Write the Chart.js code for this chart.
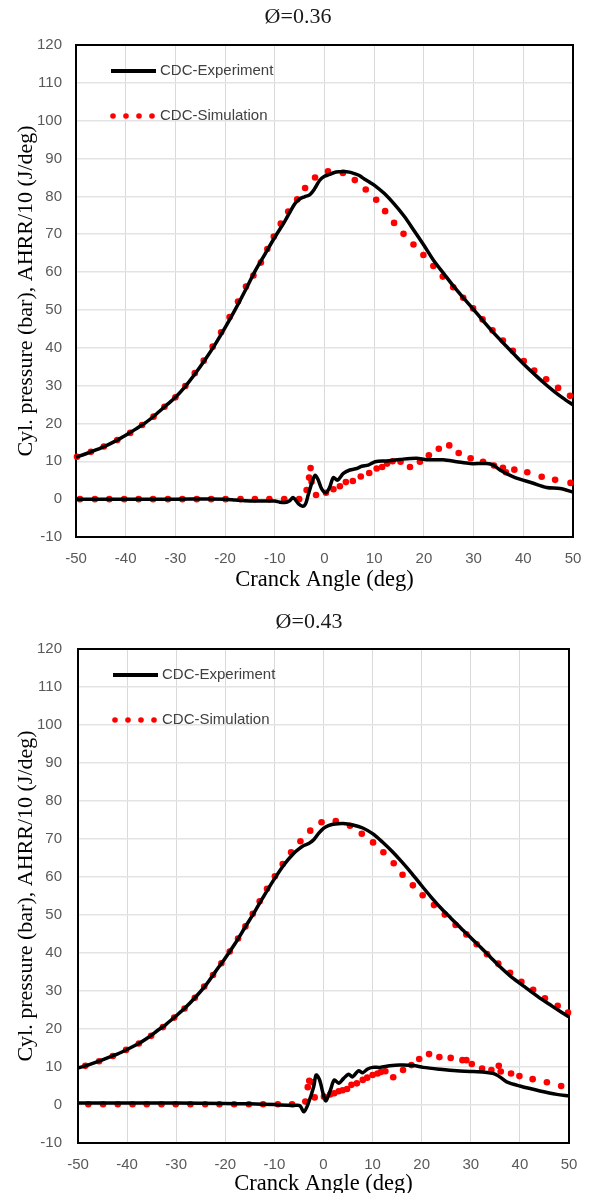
<!DOCTYPE html>
<html>
<head>
<meta charset="utf-8">
<script src="https://cdn.jsdelivr.net/npm/chart.js@4.4.1/dist/chart.umd.min.js"></script>
<style>
  body { margin: 0; background: #fff; }
  canvas { display: block; }
</style>
</head>
<body>
<canvas id="chart36" width="589" height="598"></canvas>
<canvas id="chart43" width="589" height="600"></canvas>
<script>
// ---- axis ticks ----
const xTicks = { min: -50, max: 50, step: 10 };
const yTicks = { min: -10, max: 120, step: 10 };

// ---- Ø=0.36 ----
const exp36PressAngle = [-50,-48,-46,-44,-42,-40,-38,-36,-34,-32,-30,-28,-26,-24,-22,-20,-18,-16,-14,-12,-10,-8,-6,-5,-4,-3,-2,-1,0,1,2,3,4,5,6,7,8,9,10,12,14,16,18,20,22,24,26,28,30,32,34,36,38,40,42,44,46,48,50];
const exp36Press = [11.1,12.0,13.0,14.1,15.4,16.9,18.5,20.2,22.3,24.6,26.9,29.8,33.2,36.9,40.9,45.3,50.0,55.0,60.2,64.7,69.2,73.4,78.0,79.3,79.9,80.4,82.0,84.2,85.3,85.8,86.3,86.5,86.6,86.4,86.0,85.5,84.6,83.8,83.0,80.8,78.0,74.8,71.0,67.1,63.0,59.6,56.2,53.1,50.1,47.0,44.0,41.2,38.5,35.8,33.3,30.9,28.7,26.7,24.9];

const exp36HeatAngle = [-50,-40,-30,-20,-18,-16,-14,-12,-10,-9,-8,-7,-6.3,-5.2,-4.4,-3.8,-3.3,-2.5,-1.9,-1.3,-0.6,0.3,1.0,1.8,2.6,3.8,5.1,6.5,7.5,8.8,10.2,12.5,15.2,18.5,20.6,23.9,26.6,29.3,32.6,34.0,35.3,38.0,42.0,44.7,47.4,50];
const exp36Heat = [0,0,0,0,-0.2,-0.4,-0.5,-0.5,-0.5,-0.8,-0.9,-0.4,0.4,-1.3,-1.9,-1.2,1.0,4.5,6.3,5.2,2.8,1.7,3.0,5.7,5.0,6.8,7.7,8.1,8.7,9.0,9.9,10.1,10.5,10.8,10.4,10.4,9.9,9.4,9.4,9.0,7.7,5.9,4.2,3.1,2.8,1.9];

const sim36PressAngle = [-49.8,-47.0,-44.4,-41.7,-39.1,-36.7,-34.4,-32.2,-30.0,-28.0,-26.1,-24.3,-22.5,-20.8,-19.1,-17.4,-15.8,-14.3,-12.8,-11.5,-10.2,-8.8,-7.3,-5.5,-3.9,-1.9,0.7,3.7,6.1,8.3,10.4,12.2,14.0,15.9,17.9,19.9,21.9,23.8,25.9,27.9,29.9,31.8,33.8,35.9,37.9,40.1,42.2,44.6,47.0,49.4];
const sim36Press = [11.2,12.5,13.9,15.6,17.5,19.6,21.8,24.4,26.9,29.9,33.3,36.6,40.3,44.1,48.1,52.2,56.2,59.1,62.5,66.1,69.4,72.8,76.0,79.2,82.2,85.0,86.6,86.2,84.3,81.8,79.1,76.1,73.0,70.1,67.3,64.5,61.6,58.8,56.0,53.2,50.4,47.5,44.6,41.9,39.2,36.5,34.0,31.7,29.4,27.3];

const sim36HeatAngle = [-49.2,-46.2,-43.3,-40.3,-37.4,-34.5,-31.5,-28.6,-25.7,-22.8,-19.9,-16.9,-14.0,-11.1,-8.1,-5.1,-3.6,-3.1,-2.8,-2.6,-1.7,0.3,1.8,3.1,4.3,5.7,7.3,9.0,10.5,11.6,12.6,13.7,15.3,17.2,19.2,21.0,23.0,25.1,27.0,29.4,31.9,34.1,35.9,36.5,38.2,40.8,43.7,46.4,49.5];
const sim36Heat = [0,0,0,0,0,0,0,0,0,0,0,0,0,0,0,0,2.4,5.7,8.2,4.6,1.1,1.7,2.6,3.4,4.5,4.8,6.0,6.9,8.1,8.5,9.4,10.0,9.9,8.5,9.9,11.6,13.3,14.2,12.2,10.8,9.9,8.9,8.3,7.1,7.8,7.1,5.9,5.1,4.3];

// ---- Ø=0.43 ----
const exp43PressAngle = [-50,-48,-46,-44,-42,-40,-38,-36,-34,-32,-30,-28,-26,-24,-22,-20,-18,-16,-14,-12,-10,-8,-6,-5,-4,-3,-2,-1,0,1,2,4,6,8,10,12,14,16,18,20,22,24,26,28,30,32,34,36,38,40,42,44,46,48,50];
const exp43Press = [9.7,10.5,11.4,12.4,13.4,14.6,15.9,17.5,19.4,21.3,23.5,25.8,28.5,31.5,35.1,38.7,42.5,46.7,50.9,55.3,59.5,63.3,66.3,67.4,68.3,68.8,69.8,71.5,72.8,73.5,73.9,74.1,73.7,72.9,71.4,69.2,66.7,63.9,60.9,57.7,54.6,51.7,49.1,46.5,44.0,41.5,38.9,36.3,34.0,32.0,30.1,28.2,26.5,24.8,23.2];

const exp43HeatAngle = [-50,-40,-30,-20,-15,-10,-8.8,-6,-4.8,-4.0,-3.1,-2.0,-1.5,-0.8,0,0.5,1.4,2.2,3.1,4.1,5.1,5.9,7.1,8.0,8.9,10.0,11.5,13.5,15.5,18.3,20.3,23.7,27.1,30.5,34.6,35.9,37.3,40.0,44.1,47.5,50];
const exp43Heat = [0.5,0.5,0.5,0.4,0.3,0.1,0,-0.1,-0.2,-1.8,0.4,4.8,7.9,6.6,2.6,1.1,3.9,6.6,5.7,7.0,8.1,7.4,9.0,8.5,9.4,9.9,9.9,10.3,10.5,10.4,9.9,9.4,9.0,8.8,8.3,7.4,6.1,5.0,3.7,2.8,2.4];

const sim43PressAngle = [-48.5,-45.7,-42.9,-40.2,-37.6,-35.1,-32.7,-30.4,-28.3,-26.2,-24.3,-22.5,-20.8,-19.1,-17.4,-15.9,-14.4,-13.0,-11.5,-9.9,-8.3,-6.6,-4.7,-2.7,-0.4,2.5,5.4,7.8,10.1,12.2,14.3,16.1,18.2,20.2,22.5,24.7,26.9,29.1,31.2,33.3,35.6,38.0,40.3,42.7,45.1,47.7,49.8];
const sim43Press = [10.3,11.5,12.9,14.5,16.2,18.2,20.5,23.0,25.4,28.2,31.2,34.2,37.3,40.4,43.8,47.0,50.3,53.6,56.9,60.2,63.4,66.5,69.4,72.2,74.4,74.7,73.5,71.4,69.1,66.5,63.6,60.6,57.8,55.2,52.6,50.1,47.4,44.9,42.3,39.7,37.2,34.8,32.4,30.3,28.1,26.1,24.3];

const sim43HeatAngle = [-47.9,-44.9,-41.9,-38.9,-36.0,-33.0,-30.1,-27.1,-24.1,-21.2,-18.2,-15.2,-12.3,-9.3,-6.4,-3.7,-3.2,-2.9,-2.2,-1.8,0.1,1.4,2.2,3.1,3.9,4.8,5.7,6.8,8.0,8.9,10.0,11.0,11.7,12.6,14.2,16.2,17.9,19.5,21.5,23.6,25.9,28.3,29.1,30.2,32.3,34.2,35.7,36.1,38.2,39.9,42.6,45.5,48.4];
const sim43Heat = [0.2,0.2,0.2,0.2,0.2,0.2,0.2,0.2,0.2,0.2,0.2,0.2,0.2,0.2,0.2,0.9,4.7,6.4,6.0,2.0,2.2,2.8,3.1,3.6,3.9,4.2,5.3,5.7,6.6,7.2,7.9,8.3,8.7,8.9,7.3,9.2,10.5,12.1,13.4,12.6,12.4,11.8,11.8,10.8,9.6,9.2,10.3,8.8,8.3,7.6,6.8,6.0,5.0];

const legendLabels = ['CDC-Experiment', 'CDC-Simulation'];

const serif = 'Liberation Serif, Times New Roman, serif';
const sans = 'Liberation Sans, Arial, sans-serif';

function pts(xs, ys) {
  return xs.map((x, i) => ({ x: x, y: ys[i] }));
}

function expLine(xs, ys) {
  return { data: pts(xs, ys), showLine: true, borderColor: '#000', borderWidth: 3.5,
           pointRadius: 0, tension: 0.3, clip: false };
}
function simDots(xs, ys) {
  return { data: pts(xs, ys), showLine: false, pointRadius: 3.3, pointHoverRadius: 3.3,
           pointBackgroundColor: '#ff0000', pointBorderWidth: 0, clip: false };
}

// black frame around the plot area
const framePlugin = {
  id: 'frame',
  beforeDatasetsDraw(chart) {
    const { ctx, chartArea: a } = chart;
    ctx.save();
    ctx.strokeStyle = '#000';
    ctx.lineWidth = 2;
    ctx.strokeRect(a.left, a.top, a.right - a.left, a.bottom - a.top);
    ctx.restore();
  }
};

// chart title (Excel puts it a bit off the plot centre)
const titlePlugin = {
  id: 'topTitle',
  afterDraw(chart, args, opts) {
    const ctx = chart.ctx;
    ctx.save();
    ctx.fillStyle = '#1a1a1a';
    ctx.font = '22px ' + serif;
    ctx.textAlign = 'center';
    ctx.textBaseline = 'middle';
    ctx.fillText(opts.text, opts.x, opts.y);
    ctx.restore();
  }
};

// legend inside the plot, top left
const legendPlugin = {
  id: 'insideLegend',
  afterDraw(chart) {
    const { ctx, chartArea: a } = chart;
    const lineY = a.top + 26, dotY = a.top + 71;
    ctx.save();
    ctx.strokeStyle = '#000';
    ctx.lineWidth = 4;
    ctx.beginPath();
    ctx.moveTo(a.left + 35, lineY);
    ctx.lineTo(a.left + 80, lineY);
    ctx.stroke();
    ctx.fillStyle = '#ff0000';
    [37, 50, 63, 76].forEach(dx => {
      ctx.beginPath();
      ctx.arc(a.left + dx, dotY, 2.8, 0, Math.PI * 2);
      ctx.fill();
    });
    ctx.fillStyle = '#404040';
    ctx.font = '15px ' + sans;
    ctx.textBaseline = 'middle';
    ctx.fillText(legendLabels[0], a.left + 84, lineY);
    ctx.fillText(legendLabels[1], a.left + 84, dotY);
    ctx.restore();
  }
};

function makeChart(id, title, sets, geo) {
  const ctx = document.getElementById(id).getContext('2d');
  return new Chart(ctx, {
    type: 'scatter',
    data: { datasets: sets },
    options: {
      responsive: false,
      animation: false,
      devicePixelRatio: 1,
      layout: { padding: geo.pad },
      plugins: {
        legend: { display: false },
        tooltip: { enabled: false },
        title: { display: false },
        topTitle: { text: title, x: geo.titleX, y: geo.titleY }
      },
      scales: {
        x: {
          type: 'linear', min: xTicks.min, max: xTicks.max,
          ticks: { stepSize: xTicks.step, padding: 13, color: '#595959', font: { family: sans, size: 15 } },
          grid: { color: '#d9d9d9', lineWidth: 1, drawTicks: false },
          border: { display: false },
          title: { display: true, text: 'Cranck Angle (deg)', color: '#000',
                   font: { family: serif, size: 22.5 }, padding: { top: 0, bottom: 0 } },
          afterFit: s => { s.height = geo.xHeight; s.paddingLeft = 0; s.paddingRight = 0; }
        },
        y: {
          type: 'linear', min: yTicks.min, max: yTicks.max,
          ticks: { stepSize: yTicks.step, padding: geo.yTickPad, color: '#595959', font: { family: sans, size: 15 } },
          grid: { color: '#e3e3e3', lineWidth: 1.6, drawTicks: false },
          border: { display: false },
          title: { display: true, text: 'Cyl. pressure (bar), AHRR/10 (J/deg)', color: '#000',
                   font: { family: serif, size: 22 }, padding: { top: 12.8, bottom: 0 } },
          afterFit: s => { s.width = geo.yWidth; }
        }
      }
    },
    plugins: [framePlugin, legendPlugin, titlePlugin]
  });
}

makeChart('chart36', 'Ø=0.36', [
  expLine(exp36PressAngle, exp36Press),
  expLine(exp36HeatAngle, exp36Heat),
  simDots(sim36PressAngle, sim36Press),
  simDots(sim36HeatAngle, sim36Heat)
], { pad: { left: 0, right: 16, top: 45, bottom: 4 }, titleX: 298, titleY: 17.5,
     xHeight: 57, yWidth: 76, yTickPad: 14 });

makeChart('chart43', 'Ø=0.43', [
  expLine(exp43PressAngle, exp43Press),
  expLine(exp43HeatAngle, exp43Heat),
  simDots(sim43PressAngle, sim43Press),
  simDots(sim43HeatAngle, sim43Heat)
], { pad: { left: 0, right: 20, top: 51, bottom: 0 }, titleX: 309, titleY: 24.5,
     xHeight: 55, yWidth: 78, yTickPad: 16 });
</script>
</body>
</html>
